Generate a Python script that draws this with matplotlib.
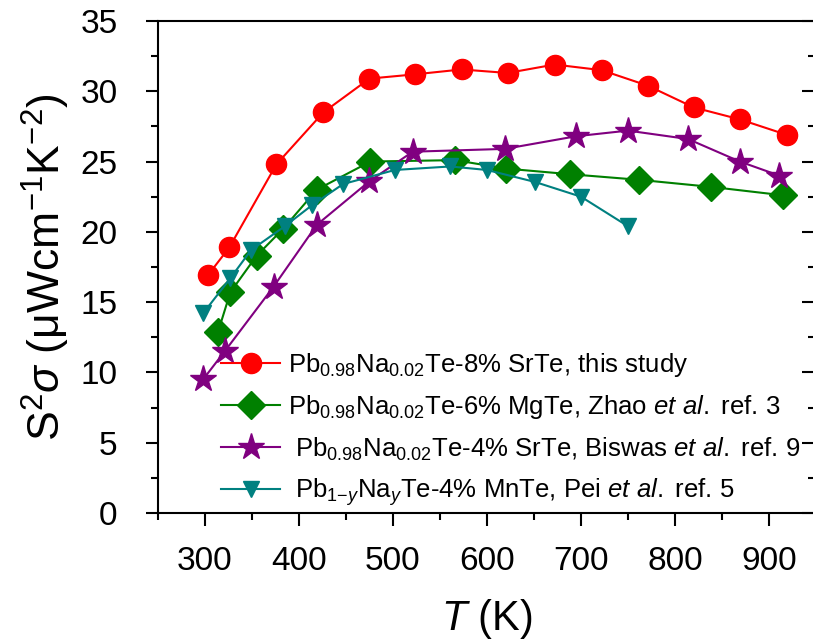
import matplotlib
matplotlib.use('Agg')
import matplotlib.pyplot as plt
from matplotlib.ticker import MultipleLocator

plt.rcParams['font.family'] = ['Liberation Sans', 'DejaVu Sans']
plt.rcParams['mathtext.fontset'] = 'custom'
plt.rcParams['mathtext.rm'] = 'Liberation Sans'
plt.rcParams['mathtext.it'] = 'Liberation Sans:italic'
plt.rcParams['mathtext.bf'] = 'Liberation Sans:bold'

# Pb0.98Na0.02Te-8% SrTe, this study
T_srte8 = [303, 326, 376, 426, 475, 523, 573, 622, 672, 722, 771, 820, 869, 919]
PF_srte8 = [16.9, 18.9, 24.8, 28.5, 30.9, 31.2, 31.55, 31.3, 31.9, 31.5, 30.4, 28.85, 28.0, 26.9]

# Pb0.98Na0.02Te-6% MgTe, Zhao et al.
T_mgte = [314, 327, 355, 383, 419, 476, 566, 620, 688, 762, 838, 915]
PF_mgte = [12.9, 15.7, 18.3, 20.2, 23.0, 25.0, 25.1, 24.5, 24.1, 23.7, 23.2, 22.6]

# Pb0.98Na0.02Te-4% SrTe, Biswas et al.
T_srte4 = [298, 321, 373, 419, 475, 521, 619, 695, 750, 814, 869, 911]
PF_srte4 = [9.5, 11.5, 16.1, 20.5, 23.6, 25.7, 25.9, 26.8, 27.2, 26.6, 25.0, 24.0]

# Pb1-yNayTe-4% MnTe, Pei et al.
T_mnte = [298, 327, 349, 385, 414, 447, 502, 561, 600, 651, 700, 750]
PF_mnte = [14.2, 16.7, 18.7, 20.4, 21.9, 23.4, 24.4, 24.65, 24.4, 23.55, 22.5, 20.4]

labels = [
    r'Pb$_{0.98}$Na$_{0.02}$Te-8% SrTe, this study',
    r'Pb$_{0.98}$Na$_{0.02}$Te-6% MgTe, Zhao $\it{et\ al.}$ ref. 3',
    r' Pb$_{0.98}$Na$_{0.02}$Te-4% SrTe, Biswas $\it{et\ al.}$ ref. 9',
    r' Pb$_{1\mathrm{-}\it{y}}$Na$_{\it{y}}$Te-4% MnTe, Pei $\it{et\ al.}$ ref. 5',
]

fig = plt.figure(figsize=(8.13, 6.43), dpi=100)
ax = fig.add_axes([0.1943, 0.2022, 0.8093, 0.7652])

h1, = ax.plot(T_srte8, PF_srte8, '-o', color='#ff0000', lw=1.5, ms=14.5)
h2, = ax.plot(T_mgte, PF_mgte, '-D', color='#008000', lw=1.5, ms=14.5)
h3, = ax.plot(T_srte4, PF_srte4, '-*', color='#800080', lw=1.5, ms=20)
h4, = ax.plot(T_mnte, PF_mnte, '-v', color='#008080', lw=1.5, ms=12)

ax.set_xlim(250, 950)
ax.set_ylim(0, 35)
ax.xaxis.set_major_locator(MultipleLocator(100))
ax.xaxis.set_minor_locator(MultipleLocator(50))
ax.yaxis.set_major_locator(MultipleLocator(5))
ax.yaxis.set_minor_locator(MultipleLocator(2.5))
ax.set_xticks(range(300, 1000, 100))
ax.spines['right'].set_visible(False)
for s in ['left', 'bottom', 'top']:
    ax.spines[s].set_linewidth(1.5)
ax.tick_params(which='major', direction='out', length=9, width=1.5,
               labelsize=24, top=False, right=False)
ax.tick_params(which='minor', direction='out', length=5, width=1.5,
               top=False, right=False)
ax.tick_params(axis='x', which='major', pad=15)
ax.tick_params(axis='y', which='major', pad=20)

ax2 = ax.twinx()
ax2.set_ylim(0, 35)
ax2.yaxis.set_major_locator(MultipleLocator(5))
ax2.yaxis.set_minor_locator(MultipleLocator(2.5))
for s in ['right', 'left', 'top', 'bottom']:
    ax2.spines[s].set_visible(False)
ax2.tick_params(which='major', direction='in', length=10, width=1.5, labelright=False)
ax2.tick_params(which='minor', direction='in', length=5.5, width=1.5)

ax.set_xlabel(r'$\it{T}$ (K)', fontsize=30, labelpad=14)
ax.set_ylabel(r'S$^2$$\sigma$ ($\mathrm{\mu}$Wcm$^{-1}$K$^{-2}$)', fontsize=32, labelpad=6)

ax.legend([h1, h2, h3, h4], labels, loc='upper left', bbox_to_anchor=(0.272, 0.454),
          bbox_transform=fig.transFigure, frameon=False, fontsize=18.5,
          handlelength=2.3, handletextpad=0.32, labelspacing=0.55,
          borderpad=0, borderaxespad=0)

fig.savefig('out.png', dpi=100)
